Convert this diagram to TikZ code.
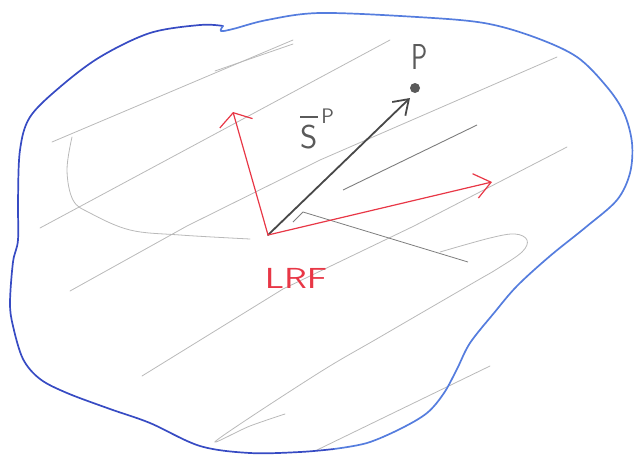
\documentclass[tikz,border=0pt]{standalone}
\usetikzlibrary{arrows.meta}
\definecolor{blobdark}{RGB}{55,75,195}
\definecolor{bloblight}{RGB}{85,125,222}
\definecolor{axisred}{RGB}{232,55,70}
\definecolor{pencil}{RGB}{185,185,185}
\definecolor{lead}{RGB}{72,72,72}
\definecolor{midgrey}{RGB}{125,125,125}
\begin{document}
\begin{tikzpicture}[x=1pt,y=-1pt,
  hatch/.style={pencil, line width=0.8pt, line cap=round, line join=round},
  outline/.style={line width=1.7pt, line cap=round, line join=round},
  axisline/.style={axisred, line width=1.2pt, line cap=round},
  vecline/.style={lead, line width=1.8pt, line cap=round},
  labeltext/.style={inner sep=0pt, font=\sffamily}]
\useasboundingbox (0,0) rectangle (637,466);

% pencil hatching
\draw[hatch] (52,142) -- (293,40);
\draw[hatch] (215,71) -- (293,44);
\draw[hatch] (40,228) -- (390,40);
\draw[hatch] (70,291) -- (187,226) -- (320,160) -- (557,57);
\draw[hatch] (142,376) -- (283,289) -- (414,226) -- (567,147);
\draw[hatch] plot[smooth, tension=0.6] coordinates {(440,252) (490,238) (515,234) (527,240) (522,252) (497,269) (473,283) (380,337) (317,374) (217,440) (250,426) (285,414)};
\draw[hatch] (317,450) -- (490,366);
\draw[hatch] plot[smooth, tension=0.6] coordinates {(72,137) (67,170) (73,200) (90,213) (130,230) (180,235) (250,239)};
\draw[midgrey, line width=0.9pt] (343,190) -- (477,125);
\draw[midgrey, line width=0.8pt] (303,212) -- (468,262);
\draw[midgrey, line width=0.8pt] (293,222) -- (303,212);

% blob outline
\draw[outline, blobdark] plot[smooth, tension=0.55] coordinates {(223,26) (200,25) (150,33) (100,57) (60,87) (30,117) (20,150) (18,200) (18,240) (13,262) (10,303) (13,326) (23,359) (40,379) (67,393) (110,409) (150,423) (200,446) (250,453) (300,452) (334,449)};
\draw[outline, bloblight] plot[smooth, tension=0.55] coordinates {(223,26) (221,31) (233,29) (267,20) (320,13) (417,17) (484,23) (534,37) (577,57) (607,87) (624,113) (632,143) (630,173) (617,200) (586,227) (550,256) (517,286) (494,313) (470,343) (457,369) (444,393) (427,413) (400,429) (367,443) (334,449)};

% frame and vector
\coordinate (O) at (268,235);
\coordinate (ey) at (233,112);
\coordinate (ex) at (492,182);
\coordinate (sp) at (410,98);
\node[circle, fill=lead!90, inner sep=0pt, minimum size=10pt] (P) at (415,88) {};

\draw[vecline, -{Straight Barb[length=14pt, width=19pt]}] (O) -- (sp);
\draw[axisline, -{Straight Barb[length=11pt, width=34pt]}] (O) -- (ey);
\draw[axisline, -{Straight Barb[length=16pt, width=25pt]}] (O) -- (ex);

% labels
\node[labeltext, text=lead!90, font=\sffamily\fontsize{36}{38}\selectfont] (Plabel) at (420,57) {\scalebox{0.75}[1]{P}};
\node[labeltext, text=lead!90, anchor=base west, font=\sffamily\fontsize{33}{35}\selectfont] (Slabel) at (300,148) {\rlap{\raisebox{30pt}{\rule{18pt}{1.6pt}}}S\hspace{4pt}\raisebox{25pt}{\fontsize{21}{22}\selectfont P}};
\node[labeltext, text=axisred, font=\sffamily\fontsize{29}{31}\selectfont] (LRF) at (296,278) {\scalebox{1.3}[1]{LRF}};
\end{tikzpicture}
\end{document}
